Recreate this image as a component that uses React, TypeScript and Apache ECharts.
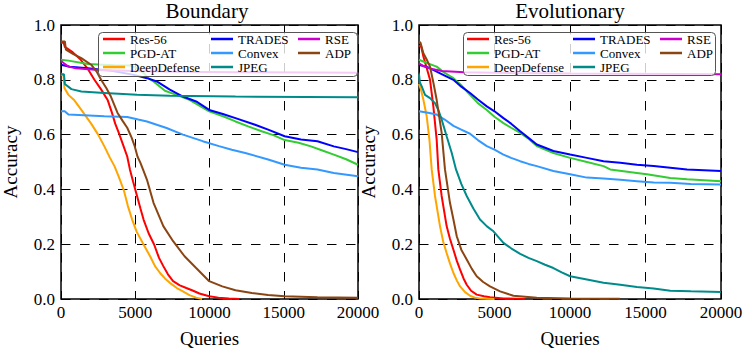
import React, { useEffect, useRef } from "react";
import * as echarts from "echarts";

type P = [number, number][];

const panelTitles = ["Boundary", "Evolutionary"];
const seriesNames = ["Res-56", "PGD-AT", "DeepDefense", "TRADES", "Convex", "JPEG", "RSE", "ADP"];
const seriesColors = ["#ff0000", "#33cc33", "#ffa500", "#0000ff", "#3399ff", "#008b8b", "#cc00cc", "#8b4513"];
const xTicks = [0, 5000, 10000, 15000, 20000];
const yTicks = [0.0, 0.2, 0.4, 0.6, 0.8, 1.0];

// ---------- Boundary ----------
const bRes56: P = [[0,0.935],[180,0.935],[260,0.92],[800,0.9],[1300,0.875],[1800,0.84],[2250,0.8],[2700,0.765],[3150,0.725],[3400,0.685],[3650,0.64],[3900,0.605],[4200,0.56],[4460,0.52],[4640,0.473],[4850,0.43],[5120,0.376],[5350,0.33],[5560,0.29],[5900,0.24],[6270,0.199],[6600,0.15],[6890,0.12],[7200,0.09],[7550,0.065],[8000,0.05],[8440,0.04],[8900,0.03],[9320,0.02],[9980,0.01],[10600,0.005],[11300,0.002],[12000,0.0]];
const bPGD: P = [[0,0.873],[500,0.87],[1810,0.858],[3580,0.853],[4700,0.852],[5200,0.84],[5560,0.825],[5900,0.805],[6230,0.794],[7000,0.76],[7770,0.745],[8650,0.727],[9980,0.685],[11000,0.665],[11750,0.648],[12600,0.63],[13510,0.612],[14300,0.598],[15060,0.58],[16000,0.57],[16830,0.557],[17600,0.542],[18370,0.527],[19200,0.51],[20000,0.49]];
const bDeep: P = [[0,0.82],[170,0.815],[230,0.77],[500,0.745],[900,0.725],[1370,0.69],[2030,0.64],[2500,0.6],[2920,0.557],[3300,0.515],[3600,0.485],[3900,0.445],[4240,0.395],[4500,0.34],[4790,0.29],[5100,0.245],[5560,0.199],[6000,0.156],[6330,0.12],[6670,0.095],[7000,0.075],[7330,0.059],[7800,0.04],[8210,0.028],[8650,0.014],[9100,0.005],[9500,0.0]];
const bTRADES: P = [[0,0.855],[600,0.848],[1810,0.842],[3500,0.832],[4900,0.818],[5790,0.806],[6450,0.794],[7330,0.764],[8210,0.739],[9100,0.721],[9980,0.69],[10900,0.675],[11750,0.66],[13070,0.636],[13950,0.618],[15060,0.594],[16160,0.582],[17270,0.576],[18370,0.557],[19200,0.547],[20000,0.536]];
const bConvex: P = [[0,0.685],[250,0.685],[500,0.673],[2920,0.667],[4460,0.664],[5200,0.655],[5790,0.648],[6500,0.635],[7110,0.624],[8210,0.6],[9540,0.576],[10640,0.558],[11500,0.545],[12410,0.533],[13950,0.509],[15060,0.49],[16160,0.479],[17270,0.473],[18370,0.46],[20000,0.448]];
const bJPEG: P = [[0,0.82],[200,0.82],[260,0.785],[700,0.766],[1370,0.757],[2920,0.752],[5120,0.745],[7330,0.742],[11750,0.739],[20000,0.736]];
const bRSE: P = [[0,0.87],[200,0.86],[500,0.848],[1000,0.842],[2500,0.836],[5000,0.832],[8000,0.829],[12000,0.828],[20000,0.826]];
const bADP: P = [[0,0.94],[260,0.94],[330,0.91],[800,0.895],[1370,0.879],[2030,0.855],[2400,0.83],[2700,0.8],[3050,0.77],[3360,0.739],[3800,0.68],[4150,0.65],[4460,0.625],[4750,0.59],[4950,0.56],[5150,0.52],[5350,0.497],[5520,0.473],[5785,0.436],[6230,0.351],[6890,0.266],[7550,0.211],[8320,0.156],[9100,0.113],[9980,0.065],[10860,0.046],[11750,0.032],[12850,0.022],[13950,0.015],[15060,0.01],[17270,0.006],[20000,0.005]];

// ---------- Evolutionary ----------
const eRes56: P = [[0,0.925],[150,0.92],[290,0.885],[500,0.845],[730,0.8],[950,0.703],[1170,0.582],[1280,0.473],[1500,0.376],[1830,0.266],[2050,0.22],[2280,0.18],[2500,0.14],[2720,0.107],[2950,0.075],[3160,0.052],[3450,0.03],[3820,0.016],[4300,0.01],[4700,0.006],[5600,0.002],[7000,0.0]];
const ePGD: P = [[0,0.873],[500,0.862],[1170,0.848],[1700,0.825],[2280,0.806],[2800,0.78],[3380,0.745],[3900,0.715],[4490,0.69],[5000,0.665],[5590,0.642],[6100,0.625],[6700,0.606],[7250,0.585],[7800,0.558],[8350,0.545],[8900,0.533],[10010,0.515],[11120,0.5],[12220,0.485],[12660,0.473],[14430,0.46],[15090,0.455],[16640,0.442],[17750,0.437],[20000,0.43]];
const eDeep: P = [[0,0.785],[150,0.76],[290,0.727],[510,0.667],[690,0.582],[840,0.473],[1060,0.376],[1390,0.266],[1600,0.21],[1830,0.168],[2050,0.13],[2280,0.095],[2500,0.068],[2720,0.046],[3050,0.025],[3380,0.012],[3700,0.005],[4040,0.002],[5000,0.0]];
const eTRADES: P = [[0,0.855],[600,0.845],[1170,0.83],[1700,0.815],[2280,0.8],[2800,0.775],[3380,0.752],[3900,0.728],[4490,0.703],[5000,0.685],[5590,0.66],[6100,0.64],[6700,0.612],[7250,0.588],[7800,0.564],[8350,0.552],[8900,0.54],[10010,0.527],[11120,0.515],[12220,0.503],[13330,0.497],[14430,0.49],[15540,0.485],[16640,0.479],[17750,0.473],[20000,0.467]];
const eConvex: P = [[0,0.685],[600,0.68],[1170,0.673],[1700,0.655],[2280,0.632],[2800,0.618],[3380,0.603],[3900,0.58],[4490,0.558],[5000,0.545],[5590,0.527],[6100,0.515],[6700,0.503],[7250,0.493],[7800,0.485],[8900,0.467],[10010,0.455],[11120,0.443],[12220,0.44],[13330,0.435],[14430,0.43],[15540,0.425],[16640,0.424],[18000,0.42],[20000,0.418]];
const eJPEG: P = [[0,0.82],[60,0.79],[180,0.776],[400,0.745],[730,0.733],[1060,0.715],[1280,0.69],[1500,0.655],[1830,0.594],[2170,0.533],[2450,0.473],[2800,0.42],[3160,0.376],[3600,0.33],[4040,0.29],[4500,0.265],[4930,0.247],[5590,0.205],[6100,0.185],[6700,0.165],[7250,0.15],[7800,0.138],[8350,0.125],[8900,0.113],[9450,0.097],[10010,0.083],[11120,0.071],[12220,0.059],[13330,0.052],[14430,0.044],[15540,0.038],[16640,0.03],[18000,0.028],[20000,0.026]];
const eRSE: P = [[0,0.86],[300,0.85],[800,0.84],[1500,0.832],[3000,0.828],[6000,0.825],[10000,0.823],[20000,0.82]];
const eADP: P = [[0,0.94],[100,0.935],[290,0.897],[500,0.875],[730,0.848],[950,0.79],[1170,0.727],[1500,0.606],[1720,0.473],[2050,0.351],[2280,0.29],[2500,0.229],[2800,0.18],[3160,0.144],[3500,0.11],[3820,0.083],[4250,0.062],[4700,0.046],[5370,0.028],[6250,0.012],[7800,0.005],[10000,0.002],[13300,0.001]];

const panelData: P[][] = [
  [bRes56, bPGD, bDeep, bTRADES, bConvex, bJPEG, bRSE, bADP],
  [eRes56, ePGD, eDeep, eTRADES, eConvex, eJPEG, eRSE, eADP],
];

const FONT = "Liberation Serif";

export default function App() {
  const ref = useRef<HTMLDivElement>(null);
  useEffect(() => {
    document.body.style.margin = "0";
    if (!ref.current) return;
    const chart = echarts.init(ref.current, undefined, { renderer: "svg" });

    const gridLefts = [56, 419];
    const gridTop = 25;
    const gridW = 302;
    const gridH = 274;

    const legendCols = [
      [103, 211, 298],
      [467, 573, 660],
    ];
    const legendBoxes = [
      { x: 98, y: 32, w: 259, h: 44 },
      { x: 463, y: 32, w: 252, h: 43 },
    ];
    const colGroups = [
      seriesNames.slice(0, 3),
      seriesNames.slice(3, 6),
      seriesNames.slice(6, 8),
    ];

    const legends: any[] = [];
    legendCols.forEach((cols) => {
      cols.forEach((x, ci) => {
        legends.push({
          show: true,
          orient: "vertical",
          left: x,
          top: 32,
          padding: 0,
          itemGap: 0,
          itemWidth: 22,
          itemHeight: 2.5,
          icon: "rect",
          z: 60,
          data: colGroups[ci],
          selectedMode: false,
          textStyle: { fontFamily: FONT, fontSize: 13, color: "#000", lineHeight: 14 },
        });
      });
    });

    const series: any[] = [];
    panelData.forEach((list, pi) => {
      list.forEach((d, si) => {
        series.push({
          type: "line",
          name: seriesNames[si],
          xAxisIndex: pi,
          yAxisIndex: pi,
          data: d,
          showSymbol: false,
          symbol: "none",
          smooth: false,
          clip: true,
          color: seriesColors[si],
          itemStyle: { color: seriesColors[si] },
          lineStyle: { width: 2, color: seriesColors[si] },
          z: 3 + si * 0.01,
        });
      });
    });

    const option: any = {
      animation: false,
      backgroundColor: "#fff",
      title: panelTitles.map((t, i) => ({
        text: t,
        left: gridLefts[i] + gridW / 2,
        top: 0,
        textAlign: "center",
        padding: 0,
        textStyle: { fontFamily: FONT, fontSize: 21, fontWeight: "normal", color: "#000", lineHeight: 22 },
      })),
      legend: legends,
      grid: gridLefts.map((l) => ({
        left: l,
        top: gridTop,
        width: gridW,
        height: gridH,
        show: true,
        borderColor: "#000",
        borderWidth: 1.5,
        backgroundColor: "transparent",
        containLabel: false,
      })),
      xAxis: gridLefts.map((_, i) => ({
        type: "value",
        gridIndex: i,
        min: xTicks[0],
        max: xTicks[xTicks.length - 1],
        interval: xTicks[1] - xTicks[0],
        name: "Queries",
        nameLocation: "middle",
        nameGap: 30,
        nameTextStyle: { fontFamily: FONT, fontSize: 19, color: "#000" },
        axisLine: { show: false },
        axisTick: { show: false },
        axisLabel: {
          fontFamily: FONT,
          fontSize: 17,
          color: "#000",
          margin: 5,
          showMaxLabel: true,
          showMinLabel: true,
          hideOverlap: false,
          formatter: (v: number) => String(v),
        },
        splitLine: { show: true, lineStyle: { color: "#000", width: 1, type: [9.5, 9.5] } },
      })),
      yAxis: gridLefts.map((_, i) => ({
        type: "value",
        gridIndex: i,
        min: yTicks[0],
        max: yTicks[yTicks.length - 1],
        interval: 0.2,
        name: "Accuracy",
        nameLocation: "middle",
        nameGap: 41,
        nameTextStyle: { fontFamily: FONT, fontSize: 19, color: "#000" },
        axisLine: { show: false },
        axisTick: { show: false },
        axisLabel: {
          fontFamily: FONT,
          fontSize: 17,
          color: "#000",
          margin: 6,
          formatter: (v: number) => v.toFixed(1),
        },
        splitLine: { show: true, lineStyle: { color: "#000", width: 1, type: [9.5, 9.5] } },
      })),
      graphic: legendBoxes.map((b) => ({
        type: "rect",
        z: 50,
        shape: { x: b.x + 0.5, y: b.y + 0.5, width: b.w, height: b.h, r: 4 },
        style: { fill: "rgba(255,255,255,0.8)", stroke: "#555", lineWidth: 1 },
      })),
      series,
    };

    chart.setOption(option);
    return () => chart.dispose();
  }, []);

  return <div ref={ref} style={{ width: 747, height: 353 }} />;
}
